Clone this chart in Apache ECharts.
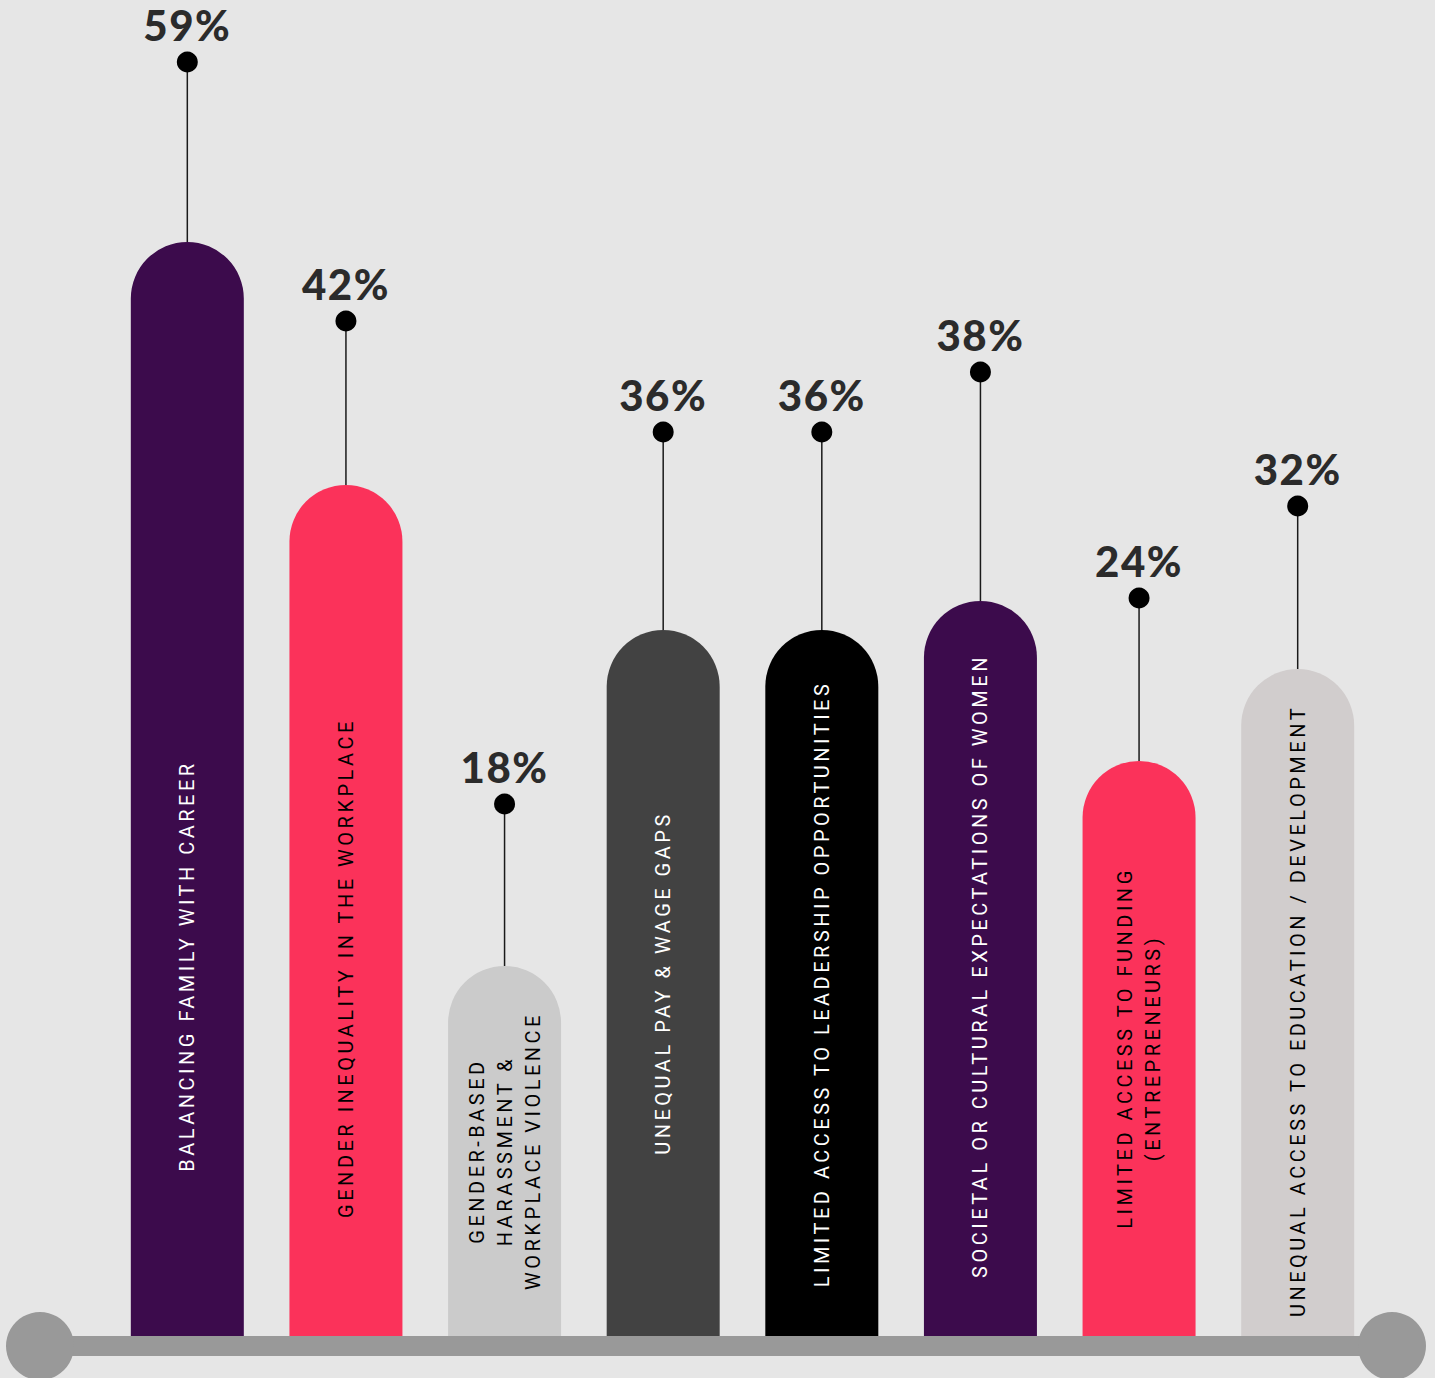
<!DOCTYPE html>
<html>
<head>
<meta charset="utf-8">
<script src="https://cdn.jsdelivr.net/npm/echarts@6/dist/echarts.min.js"></script>
<style>
  html, body { margin: 0; padding: 0; background: #e6e6e6; }
  #chart { width: 1435px; height: 1378px; }
  /* the bar captions are letter-spaced in the original */
  #chart svg text { letter-spacing: 3.5px; }
  #chart svg text[style*="42px"] { letter-spacing: 1.5px; }
</style>
</head>
<body>
<div id="chart"></div>
<script>
const categories = [
  'BALANCING FAMILY WITH CAREER',
  'GENDER INEQUALITY IN THE WORKPLACE',
  'GENDER-BASED\nHARASSMENT &\nWORKPLACE VIOLENCE',
  'UNEQUAL PAY & WAGE GAPS',
  'LIMITED ACCESS TO LEADERSHIP OPPORTUNITIES',
  'SOCIETAL OR CULTURAL EXPECTATIONS OF WOMEN',
  'LIMITED ACCESS TO FUNDING\n(ENTREPRENEURS)',
  'UNEQUAL ACCESS TO EDUCATION / DEVELOPMENT'
];
// the printed percentages
const values = [59, 42, 18, 36, 36, 38, 24, 32];
// the graphic is not drawn to scale: bar tops and pin heads
const barLevel = [54.7, 42.55, 18.5, 35.3, 35.3, 36.75, 28.75, 33.35];
const pinLevel = [63.7, 50.75, 26.6, 45.2, 45.2, 48.2, 36.9, 41.5];

const barColors = ['#3c0b4c', '#fb325a', '#cbcbcb', '#424242', '#000000', '#3c0b4c', '#fb325a', '#d1cdcd'];
const textColors = ['#fff', '#000', '#000', '#fff', '#fff', '#fff', '#000', '#000'];
const labelLift = [370, 368, 185, 353, 352, 370, 288, 325];

const chart = echarts.init(document.getElementById('chart'), null, { renderer: 'svg' });

const option = {
  backgroundColor: '#e6e6e6',
  animation: false,
  grid: [
    { left: 108, right: 58, top: 36, bottom: 42 },
    { left: 40, right: 43, top: 1300, bottom: 32 }
  ],
  xAxis: [
    {
      type: 'category',
      gridIndex: 0,
      data: categories,
      axisLine: { show: false },
      axisTick: { show: false },
      axisLabel: { show: false }
    },
    {
      type: 'value',
      gridIndex: 1,
      min: 0,
      max: 1,
      axisLine: {
        show: true,
        lineStyle: { color: '#999999', width: 20 },
        symbol: ['circle', 'circle'],
        symbolSize: [68, 68]
      },
      axisTick: { show: false },
      axisLabel: { show: false },
      splitLine: { show: false }
    }
  ],
  yAxis: [
    { type: 'value', gridIndex: 0, min: 0, max: 65, show: false },
    { type: 'value', gridIndex: 1, show: false }
  ],
  series: [
    {
      type: 'custom',
      z: 1,
      data: categories.map((c, i) => [i, barLevel[i], pinLevel[i]]),
      renderItem: function (params, api) {
        const a = api.coord([api.value(0), api.value(1)]);
        const b = api.coord([api.value(0), api.value(2)]);
        return {
          type: 'line',
          shape: { x1: a[0], y1: a[1], x2: b[0], y2: b[1] },
          style: { stroke: '#1a1a1a', lineWidth: 1.5 }
        };
      }
    },
    {
      type: 'bar',
      z: 2,
      barWidth: 113,
      data: barLevel.map((v, i) => ({
        value: v,
        itemStyle: { color: barColors[i] },
        label: { color: textColors[i], distance: labelLift[i] }
      })),
      itemStyle: { borderRadius: [56.5, 56.5, 0, 0] },
      label: {
        show: true,
        position: 'insideBottom',
        rotate: 90,
        align: 'center',
        verticalAlign: 'middle',
        fontFamily: 'Roboto',
        fontSize: 20,
        lineHeight: 28,
        formatter: p => categories[p.dataIndex]
      }
    },
    {
      type: 'scatter',
      z: 3,
      symbol: 'circle',
      symbolSize: 21,
      itemStyle: { color: '#000', opacity: 1 },
      data: pinLevel,
      label: {
        show: true,
        position: 'top',
        distance: 6,
        fontFamily: 'Lato',
        fontWeight: 900,
        fontSize: 42,
        color: '#2b2b2b',
        formatter: p => values[p.dataIndex] + '%'
      }
    }
  ]
};

chart.setOption(option);
</script>
</body>
</html>
